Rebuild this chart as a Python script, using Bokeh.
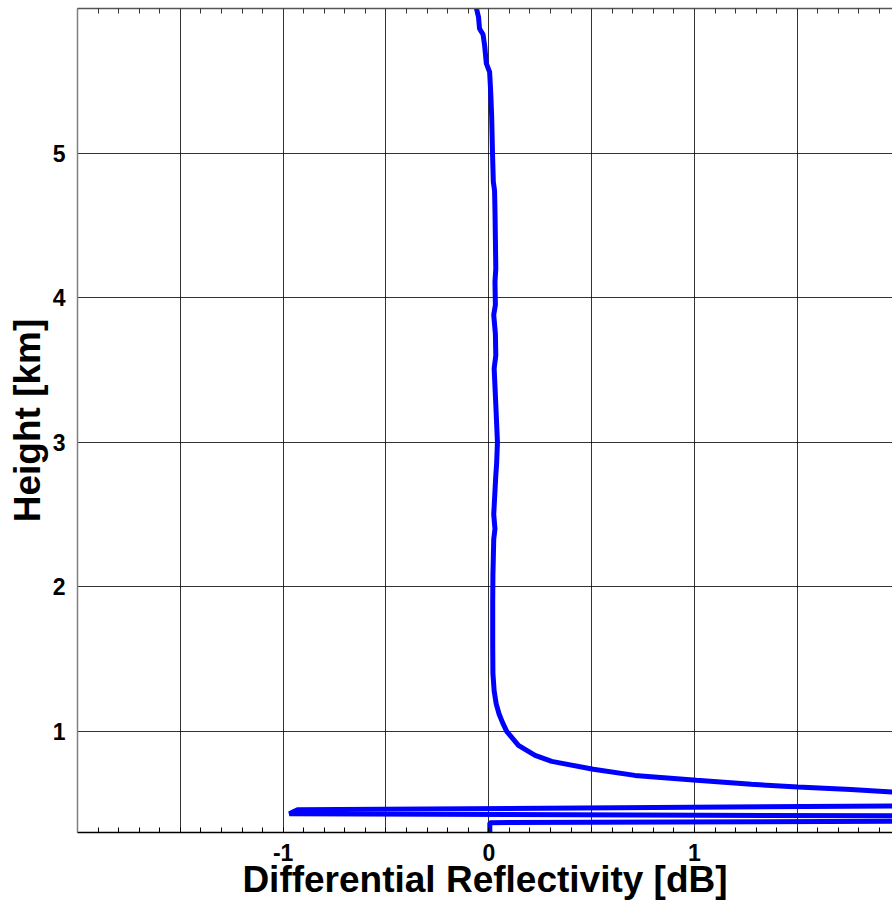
from bokeh.plotting import figure
from bokeh.models import Range1d, FixedTicker, LinearAxis
from bokeh.embed import file_html
from bokeh.resources import INLINE

# ---- data: differential reflectivity profile (dB) vs height (km) ----
zdr = [-0.060, -0.050, -0.045, -0.028, -0.020, -0.012, 0.004, 0.010, 0.014, 0.018,
       0.022, 0.028, 0.030, 0.032, 0.034, 0.030, 0.032, 0.024, 0.032, 0.034,
       0.026, 0.034, 0.042, 0.038, 0.034, 0.024, 0.030, 0.024, 0.022, 0.020,
       0.019, 0.019, 0.020, 0.026, 0.036, 0.050, 0.067, 0.087, 0.144, 0.225,
       0.306, 0.508, 0.710, 1.010, 1.277, 1.503, 1.760, 1.966, 2.400, 2.400,
       -0.930, -0.970, 2.400, 2.400, 0.005, 0.005]
height = [6.00, 5.94, 5.86, 5.82, 5.74, 5.62, 5.56, 5.40, 5.25, 5.00,
          4.80, 4.74, 4.60, 4.41, 4.20, 4.11, 3.95, 3.88, 3.75, 3.60,
          3.51, 3.26, 3.00, 2.85, 2.77, 2.50, 2.40, 2.33, 2.20, 2.08,
          1.90, 1.60, 1.40, 1.28, 1.19, 1.12, 1.06, 1.00, 0.903, 0.834,
          0.792, 0.737, 0.695, 0.661, 0.633, 0.615, 0.597, 0.580, 0.560, 0.488,
          0.457, 0.430, 0.413, 0.379, 0.368, 0.250]

# ---- axes / ticks ----
x_limits = (-2.0, 1.963)
y_limits = (0.3, 6.0)
x_major_ticks = [-1, 0, 1]
x_tick_labels = {-1: "-1", 0: "0", 1: "1"}
x_minor_ticks = [round(-2.0 + 0.1 * i, 1) for i in range(40)]
x_grid_ticks = [-2.0, -1.5, -1.0, -0.5, 0.0, 0.5, 1.0, 1.5]
y_major_ticks = [1, 2, 3, 4, 5]

FONT = "Liberation Sans"

p = figure(width=892, height=911,
           x_range=Range1d(*x_limits), y_range=Range1d(*y_limits),
           output_backend="svg", toolbar_location=None,
           min_border_left=77, min_border_right=0, min_border_top=8,
           min_border_bottom=79)
p.background_fill_color = "white"
p.border_fill_color = "white"
p.outline_line_color = None

p.line(zdr, height, line_color="#0000FF", line_width=5)

# x axis (bottom)
xa = p.xaxis[0]
xa.ticker = FixedTicker(ticks=x_major_ticks, minor_ticks=x_minor_ticks)
xa.major_label_overrides = x_tick_labels
xa.axis_label = "Differential Reflectivity [dB]"
xa.axis_label_text_font = FONT
xa.axis_label_text_font_style = "bold"
xa.axis_label_text_font_size = "37px"
xa.axis_label_text_color = "black"
xa.axis_label_standoff = -5
xa.major_label_text_font = FONT
xa.major_label_text_font_style = "bold"
xa.major_label_text_font_size = "23px"
xa.major_label_text_color = "black"
xa.major_label_standoff = 11
xa.major_tick_in = 0
xa.major_tick_out = 0
xa.minor_tick_in = 5
xa.minor_tick_out = 0
xa.minor_tick_line_color = "black"
xa.axis_line_color = "black"
xa.axis_line_width = 1.5

# y axis (left)
ya = p.yaxis[0]
ya.ticker = FixedTicker(ticks=y_major_ticks, minor_ticks=[])
ya.axis_label = "Height [km]"
ya.axis_label_text_font = FONT
ya.axis_label_text_font_style = "bold"
ya.axis_label_text_font_size = "37px"
ya.axis_label_text_color = "black"
ya.axis_label_standoff = 2
ya.major_label_text_font = FONT
ya.major_label_text_font_style = "bold"
ya.major_label_text_font_size = "23px"
ya.major_label_text_color = "black"
ya.major_label_standoff = 12
ya.major_tick_in = 0
ya.major_tick_out = 0
ya.minor_tick_in = 0
ya.minor_tick_out = 0
ya.axis_line_color = "#808080"
ya.axis_line_width = 1.5

# top border with minor ticks only (no labels)
top = LinearAxis(ticker=FixedTicker(ticks=[], minor_ticks=x_minor_ticks))
top.major_label_standoff = 0
top.major_tick_in = 0
top.major_tick_out = 0
top.minor_tick_in = 5
top.minor_tick_out = 0
top.minor_tick_line_color = "#333333"
top.axis_line_color = "#555555"
top.axis_line_width = 1.5
p.add_layout(top, "above")

# grids
p.xgrid.ticker = FixedTicker(ticks=x_grid_ticks)
p.ygrid.ticker = FixedTicker(ticks=y_major_ticks)
for g in (p.xgrid, p.ygrid):
    g.grid_line_color = "black"
    g.grid_line_alpha = 0.8
    g.grid_line_width = 1

open("out.html", "w").write(file_html(p, INLINE))
